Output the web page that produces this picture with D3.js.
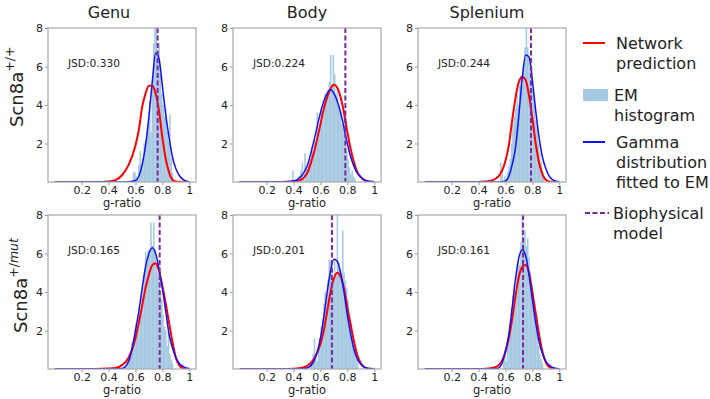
<!DOCTYPE html>
<html>
<head>
<meta charset="utf-8">
<script src="https://cdn.jsdelivr.net/npm/d3@7"></script>
<style>
  body { margin: 0; background: #fff; }
  text { font-family: "DejaVu Sans", sans-serif; fill: #222; }
</style>
</head>
<body>
<svg width="710" height="399"></svg>
<script>
// column / row titles
const colTitles = ['Genu', 'Body', 'Splenium'];
const jsdLabels = ['0.330', '0.224', '0.244', '0.165', '0.201', '0.161'];
const biophysical = [0.765, 0.785, 0.79, 0.78, 0.685, 0.731];
const xTicks = [0.2, 0.4, 0.6, 0.8, 1];
const yTicks = [2, 4, 6, 8];

// g-ratio grid the curves are sampled on
const gridX = [0, 0.1, 0.2, 0.3, 0.4, 0.45, 0.5, 0.55, 0.6, 0.625, 0.65, 0.675, 0.7,
  0.725, 0.75, 0.775, 0.8, 0.825, 0.85, 0.875, 0.9, 0.925, 0.95, 0.975, 1.0];

// network prediction (red)
const genuWtRed  = [0,0,0,0,0.03,0.1,0.35,0.9,1.9,2.7,3.9,4.6,5.0,5.0,4.6,3.7,2.3,1.2,0.5,0.12,0.03,0.01,0,0,0];
const bodyWtRed  = [0,0,0,0,0.02,0.1,0.45,1.5,3.0,3.8,4.4,4.85,5.05,4.9,4.4,3.6,2.6,1.7,1.0,0.5,0.25,0.1,0.03,0.01,0];
const splWtRed   = [0,0,0,0,0,0.02,0.08,0.3,1.1,1.9,3.2,4.4,5.2,5.45,5.3,4.5,3.3,2.0,1.0,0.4,0.12,0.03,0.01,0,0];
const genuMutRed = [0,0,0,0,0.02,0.05,0.2,0.6,1.6,2.4,3.3,4.2,4.9,5.4,5.5,5.1,4.3,3.4,2.4,1.4,0.6,0.2,0.05,0.01,0];
const bodyMutRed = [0,0,0,0,0.01,0.05,0.15,0.5,1.3,2.0,3.0,4.0,4.7,5.0,4.8,4.2,3.2,2.3,1.4,0.7,0.3,0.1,0.03,0.01,0];
const splMutRed  = [0,0,0,0,0,0.01,0.05,0.2,0.9,1.6,2.6,3.8,4.8,5.3,5.4,5.0,4.0,2.9,1.8,0.9,0.35,0.1,0.03,0.01,0];

// gamma fit to EM (blue)
const genuWtBlue  = [0,0,0,0,0,0,0,0.01,0.08,0.3,0.9,1.9,3.4,5.2,6.7,6.4,5.0,3.5,2.3,1.3,0.7,0.35,0.15,0.05,0.01];
const bodyWtBlue  = [0,0,0,0,0.05,0.25,0.8,2.1,3.6,4.2,4.6,4.8,4.6,4.2,3.6,2.8,2.0,1.3,0.8,0.45,0.25,0.12,0.05,0.02,0.01];
const splWtBlue   = [0,0,0,0,0,0,0,0,0.05,0.3,0.9,1.8,3.5,5.4,6.6,6.5,5.3,3.7,2.3,1.3,0.7,0.3,0.12,0.04,0.01];
const genuMutBlue = [0,0,0,0,0,0,0.02,0.4,2.0,3.0,4.2,5.3,6.0,6.3,6.0,5.2,4.2,3.0,1.8,1.1,0.6,0.3,0.15,0.06,0.03];
const bodyMutBlue = [0,0,0,0,0,0.01,0.05,0.4,1.6,2.7,4.0,5.1,5.7,5.6,5.0,4.0,2.8,1.8,1.0,0.5,0.25,0.1,0.04,0.01,0];
const splMutBlue  = [0,0,0,0,0,0,0,0.05,0.9,1.8,3.2,4.7,5.8,6.2,5.9,4.9,3.6,2.4,1.4,0.8,0.4,0.2,0.08,0.03,0.01];

// EM histograms, bins of 0.01 starting at histStart
const histStart = [0.58, 0.39, 0.56, 0.52, 0.53, 0.58];
const genuWtHist = [0.5,0.5,0.3,0.2,0.9,1.6,0.9,1.2,2.0,2.2,2.6,3.0,4.2,2.6,5.0,7.2,8.5,8.3,6.4,7.2,5.6,4.6,4.0,3.4,3.8,2.6,2.1,3.5,1.2,0.5];
const bodyWtHist = [0.6,0,0,0,0.3,0.3,0.6,1.0,0.5,1.5,0.8,0.6,1.0,1.2,1.8,1.6,2.2,2.0,3.6,2.5,3.0,3.8,3.2,4.0,4.6,4.3,4.8,5.2,6.6,5.0,6.6,5.6,4.5,4.8,4.0,3.6,3.0,2.8,3.4,3.6,1.6,1.2,0.8,0.4,0.6,0.3,0.2];
const splWtHist  = [1.0,0.6,0,0.3,0.2,0.5,0.8,1.2,2.0,3.0,3.4,3.8,4.6,4.0,5.0,5.5,5.0,6.2,7.0,8.5,7.0,6.5,5.6,6.0,4.8,4.0,3.2,2.8,2.0,1.5,1.0,0.6,0.3];
const genuMutHist = [0.2,0.4,0.3,0.6,0.8,1.4,1.2,1.8,2.4,2.0,3.2,2.6,3.8,4.2,5.0,6.1,5.5,6.2,6.0,7.6,6.4,7.6,6.2,5.4,5.0,4.8,4.0,3.6,2.8,2.2,2.0,1.2,2.0,0.8,0.5,0.3];
const bodyMutHist = [0.2,0.8,1.6,0.6,0.4,1.0,1.6,2.2,2.6,3.4,4.0,3.8,4.6,5.7,5.6,5.2,4.4,5.6,5.0,8.5,5.5,5.2,4.8,7.2,5.0,4.6,4.2,3.6,2.8,2.2,1.8,1.2,0.8,0.5,0.3];
const splMutHist  = [0.8,1.0,0.4,1.4,1.8,2.4,3.2,3.8,4.4,4.0,5.2,5.6,5.4,6.6,8.5,6.8,7.2,6.4,6.8,5.8,5.0,4.4,3.6,3.0,2.4,1.8,1.2,0.8,0.5,0.3];

const redCurves = [genuWtRed, bodyWtRed, splWtRed, genuMutRed, bodyMutRed, splMutRed];
const blueCurves = [genuWtBlue, bodyWtBlue, splWtBlue, genuMutBlue, bodyMutBlue, splMutBlue];
const hists = [genuWtHist, bodyWtHist, splWtHist, genuMutHist, bodyMutHist, splMutHist];
const binWidth = 0.01;

const svg = d3.select('svg');
const W = 148, H = 154;
const lefts = [48, 233, 418];
const tops = [28, 215];
const histColor = '#a5c9e1';
const purple = '#7a2a9e';

svg.append('defs').append('clipPath').attr('id', 'pclip')
  .append('rect').attr('width', W).attr('height', H);

const x = d3.scaleLinear().domain([-0.05, 1.05]).range([0, W]);
const y = d3.scaleLinear().domain([0, 8]).range([H, 0]);

const line = d3.line()
  .x(d => x(d[0]))
  .y(d => y(d[1]))
  .curve(d3.curveMonotoneX);

for (let i = 0; i < 6; i++) {
  const col = i % 3, row = Math.floor(i / 3);
  const g = svg.append('g').attr('transform', `translate(${lefts[col]},${tops[row]})`);
  const plot = g.append('g').attr('clip-path', 'url(#pclip)');

  plot.selectAll('rect.bar')
    .data(hists[i])
    .enter()
    .append('rect')
    .attr('class', 'bar')
    .attr('x', (d, k) => x(histStart[i] + k * binWidth))
    .attr('width', x(binWidth) - x(0) + 0.2)
    .attr('y', d => y(d))
    .attr('height', d => y(0) - y(d))
    .attr('fill', histColor);

  plot.append('path')
    .datum(gridX.map((v, k) => [v, redCurves[i][k]]))
    .attr('d', line)
    .attr('fill', 'none')
    .attr('stroke', '#ff0000')
    .attr('stroke-width', 2);

  plot.append('path')
    .datum(gridX.map((v, k) => [v, blueCurves[i][k]]))
    .attr('d', line)
    .attr('fill', 'none')
    .attr('stroke', '#1010ff')
    .attr('stroke-width', 1.5);

  plot.append('line')
    .attr('x1', x(biophysical[i])).attr('x2', x(biophysical[i]))
    .attr('y1', 0).attr('y2', H)
    .attr('stroke', purple)
    .attr('stroke-width', 2)
    .attr('stroke-dasharray', '5,2.5');

  // axes
  const xa = g.append('g').attr('transform', `translate(0,${H})`)
    .call(d3.axisBottom(x).tickValues(xTicks).tickSize(3).tickPadding(1.5)
      .tickFormat(d => d === 1 ? '1' : d3.format('.1f')(d)));
  const ya = g.append('g')
    .call(d3.axisLeft(y).tickValues(yTicks).tickSize(3).tickPadding(2).tickFormat(d3.format('d')));
  [xa, ya].forEach(a => {
    a.select('.domain').remove();
    a.selectAll('line').attr('stroke', '#999');
    a.selectAll('text').attr('font-size', 11).attr('fill', '#222')
      .style('font-family', '"DejaVu Sans", sans-serif');
  });

  g.append('rect')
    .attr('width', W).attr('height', H)
    .attr('fill', 'none')
    .attr('stroke', '#a8a8a8')
    .attr('stroke-width', 1.2);

  g.append('text')
    .attr('x', 20).attr('y', 39)
    .attr('font-size', 10.6)
    .text('JSD:' + jsdLabels[i]);

  g.append('text')
    .attr('x', W / 2).attr('y', H + 25)
    .attr('text-anchor', 'middle')
    .attr('font-size', 11.5)
    .text('g-ratio');
}

// column titles
const titleX = [109, 307, 487];
colTitles.forEach((t, c) => {
  svg.append('text')
    .attr('x', titleX[c]).attr('y', 18)
    .attr('text-anchor', 'middle')
    .attr('font-size', 16)
    .text(t);
});

// row labels
const rowLab = [
  { x: 23, y: 127, sup: [['+/+', 'normal']] },
  { x: 27, y: 333, sup: [['+/', 'normal'], ['mut', 'italic']] }
];
rowLab.forEach(r => {
  const t = svg.append('text')
    .attr('transform', `translate(${r.x},${r.y}) rotate(-90)`)
    .attr('font-size', 18);
  t.append('tspan').text('Scn8a');
  r.sup.forEach((s, k) => {
    t.append('tspan')
      .attr('dy', k === 0 ? -9 : 0)
      .attr('font-size', 12.5)
      .attr('font-style', s[1])
      .text(s[0]);
  });
});

// legend
const lg = svg.append('g');
const legendText = [
  ['Network', 'prediction'],
  ['EM', 'histogram'],
  ['Gamma', 'distribution', 'fitted to EM'],
  ['Biophysical', 'model']
];
const legendY = [43, 95, 142, 213];
const legendTx = [616, 614, 616, 613];

lg.append('line').attr('x1', 583).attr('x2', 605).attr('y1', legendY[0]).attr('y2', legendY[0])
  .attr('stroke', '#ff0000').attr('stroke-width', 2);
lg.append('rect').attr('x', 583).attr('y', legendY[1] - 6).attr('width', 25).attr('height', 12)
  .attr('fill', histColor);
lg.append('line').attr('x1', 583).attr('x2', 605).attr('y1', legendY[2]).attr('y2', legendY[2])
  .attr('stroke', '#1010ff').attr('stroke-width', 2);
lg.append('line').attr('x1', 585).attr('x2', 609).attr('y1', legendY[3]).attr('y2', legendY[3])
  .attr('stroke', purple).attr('stroke-width', 2).attr('stroke-dasharray', '5,2.5');

legendText.forEach((lines, k) => {
  const t = lg.append('text').attr('font-size', 16);
  lines.forEach((s, j) => {
    t.append('tspan')
      .attr('x', legendTx[k])
      .attr('y', legendY[k] + 5.5 + j * 20)
      .text(s);
  });
});
</script>
</body>
</html>
